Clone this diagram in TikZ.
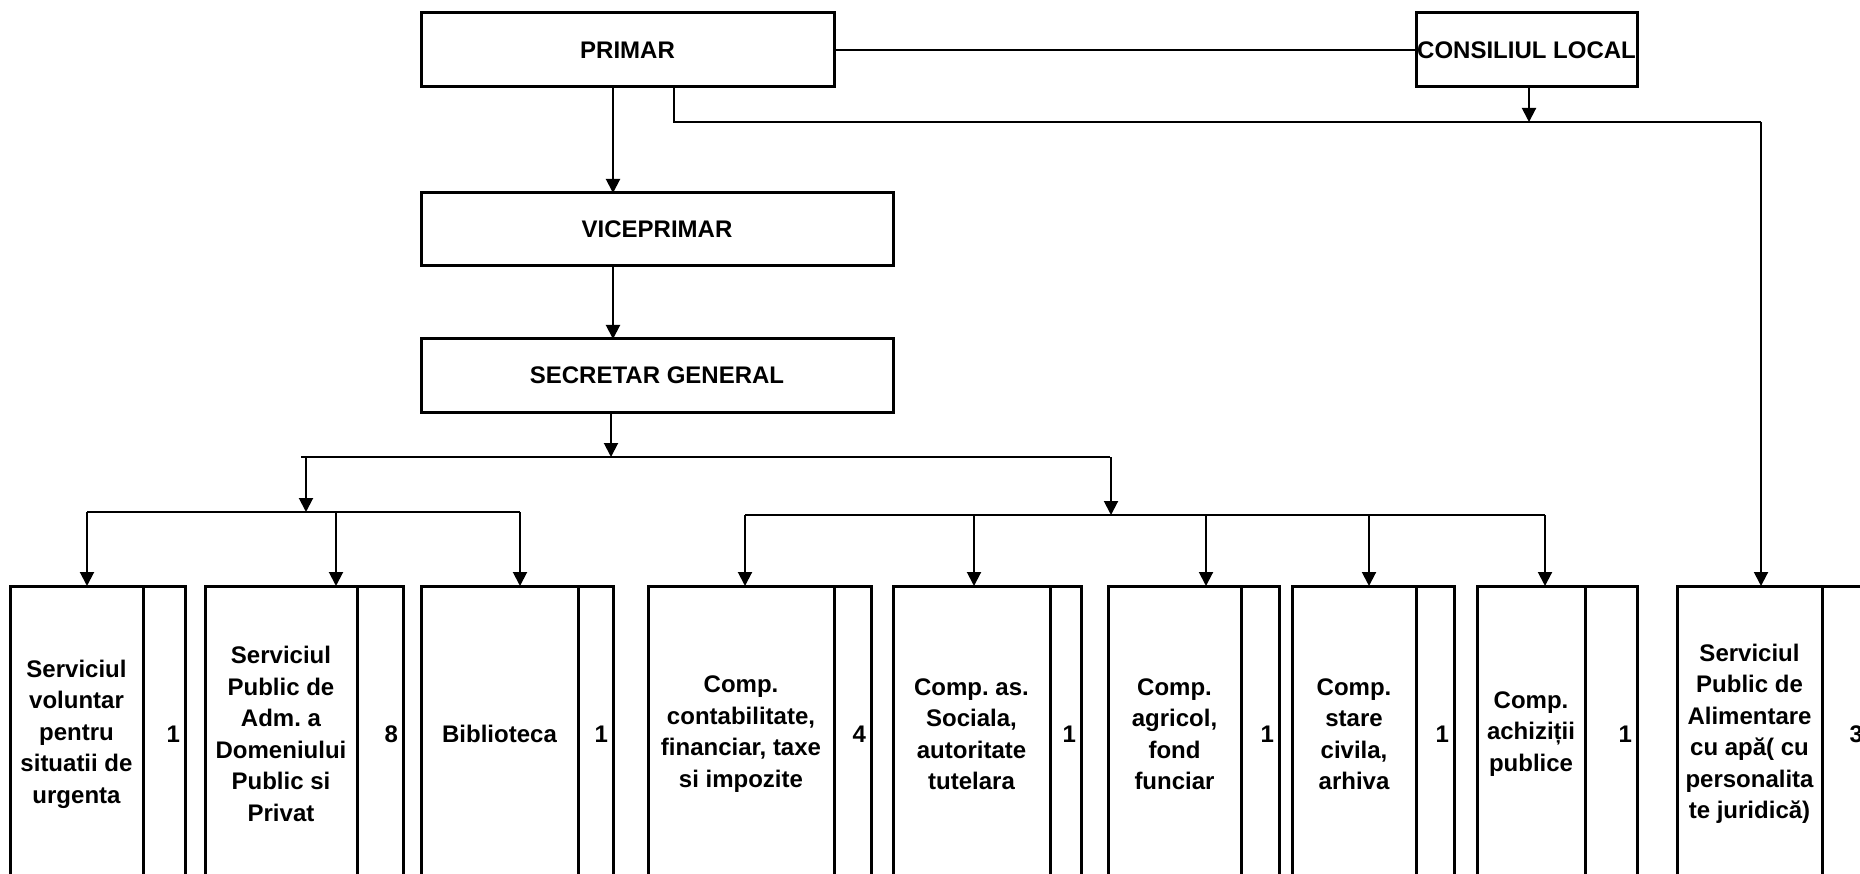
\documentclass[tikz,border=0pt]{standalone}
\usepackage{fontspec}
\setmainfont{Liberation Sans}
\usetikzlibrary{arrows.meta}
\frenchspacing
\begin{document}
\begin{tikzpicture}[x=1pt,y=-1pt,
  box/.style={draw, line width=3pt, inner sep=0pt, outer sep=0pt, anchor=north west, align=center,
    font=\bfseries\fontsize{24}{31.5}\selectfont\frenchspacing},
  cell/.style={box, minimum height=296pt},
  num/.style={box, minimum height=296pt, align=right, inner xsep=5pt},
  con/.style={line width=2pt},
  topline/.style={line width=2.5pt},
  arr/.style={con, -{Triangle[length=14pt,width=14pt]}},
  bus/.style={line width=1.8pt}]
\useasboundingbox (0,0) rectangle (1860,874);
\clip (0,0) rectangle (1860,874);

% top boxes
\node[box, minimum width=413pt, minimum height=74pt] (primar) at (421,13) {PRIMAR};
\node[box, minimum width=221pt, minimum height=74pt] (consiliu) at (1416,13) {CONSILIUL LOCAL};
\node[box, minimum width=472pt, minimum height=73pt] (vice) at (421,193) {VICEPRIMAR};
\node[box, minimum width=472pt, minimum height=73pt] (secretar) at (421,339) {SECRETAR GENERAL};

% bottom boxes
\node[cell, minimum width=133pt] (L1) at (10,586) {Serviciul\\voluntar\\pentru\\situatii de\\urgenta};
\node[num, text width=32pt] (N1) at (143,586) {1};
\node[cell, minimum width=152pt] (L2) at (205,586) {Serviciul\\Public de\\Adm. a\\Domeniului\\Public si\\Privat};
\node[num, text width=36pt] (N2) at (357,586) {8};
\node[cell, minimum width=157pt] (L3) at (421,586) {Biblioteca};
\node[num, text width=25pt] (N3) at (578,586) {1};
\node[cell, minimum width=186pt] (L4) at (648,586) {Comp.\\contabilitate,\\financiar, taxe\\si impozite};
\node[num, text width=27pt] (N4) at (834,586) {4};
\node[cell, minimum width=157pt] (L5) at (893,586) {Comp. as.\\Sociala,\\autoritate\\tutelara};
\node[num, text width=21pt] (N5) at (1050,586) {1};
\node[cell, minimum width=133pt] (L6) at (1108,586) {Comp.\\agricol,\\fond\\funciar};
\node[num, text width=28pt] (N6) at (1241,586) {1};
\node[cell, minimum width=124pt] (L7) at (1292,586) {Comp.\\stare\\civila,\\arhiva};
\node[num, text width=28pt] (N7) at (1416,586) {1};
\node[cell, minimum width=108pt] (L8) at (1477,586) {Comp.\\achiziții\\publice};
\node[num, text width=42pt] (N8) at (1585,586) {1};
\node[cell, minimum width=145pt] (L9) at (1677,586) {Serviciul\\Public de\\Alimentare\\cu apă( cu\\personalita\\te juridică)};
\node[num, text width=36pt] (N9) at (1822,586) {3};

% junction coordinates
\coordinate (a) at (613,0);
\coordinate (pj) at (674,122);
\coordinate (c9) at (1761,122);
\coordinate (cj) at (1529,122);
\coordinate (sj) at (611,457);
\coordinate (tbl) at (301,457);
\coordinate (tbr) at (1110,457);
\coordinate (lj) at (306,512);
\coordinate (rj) at (1111,515);
\coordinate (l1) at (87,512);
\coordinate (l2) at (336,512);
\coordinate (l3) at (520,512);
\coordinate (r4) at (745,515);
\coordinate (r5) at (974,515);
\coordinate (r6) at (1206,515);
\coordinate (r7) at (1369,515);
\coordinate (r8) at (1545,515);

% connectors
\draw[topline] (primar.east) -- (consiliu.west);
\draw[arr] (primar.south -| a) -- (vice.north -| a);
\draw[arr] (vice.south -| a) -- (secretar.north -| a);
\draw[topline] (primar.south -| pj) -- (pj) -- (c9);
\draw[arr] (c9) -- (c9 |- L9.north);
\draw[arr] (consiliu.south -| cj) -- (cj);
\draw[arr] (secretar.south -| sj) -- (sj);
\draw[topline] (tbl) -- (tbr);
\draw[arr] (lj |- sj) -- (lj);
\draw[arr] (rj |- sj) -- (rj);
\draw[bus] (l1) -- (l3);
\draw[bus] (r4) -- (r8);
\foreach \i in {1,2,3} \draw[arr] (l\i) -- (l\i |- L\i.north);
\foreach \i in {4,5,6,7,8} \draw[arr] (r\i) -- (r\i |- L\i.north);
\end{tikzpicture}
\end{document}
